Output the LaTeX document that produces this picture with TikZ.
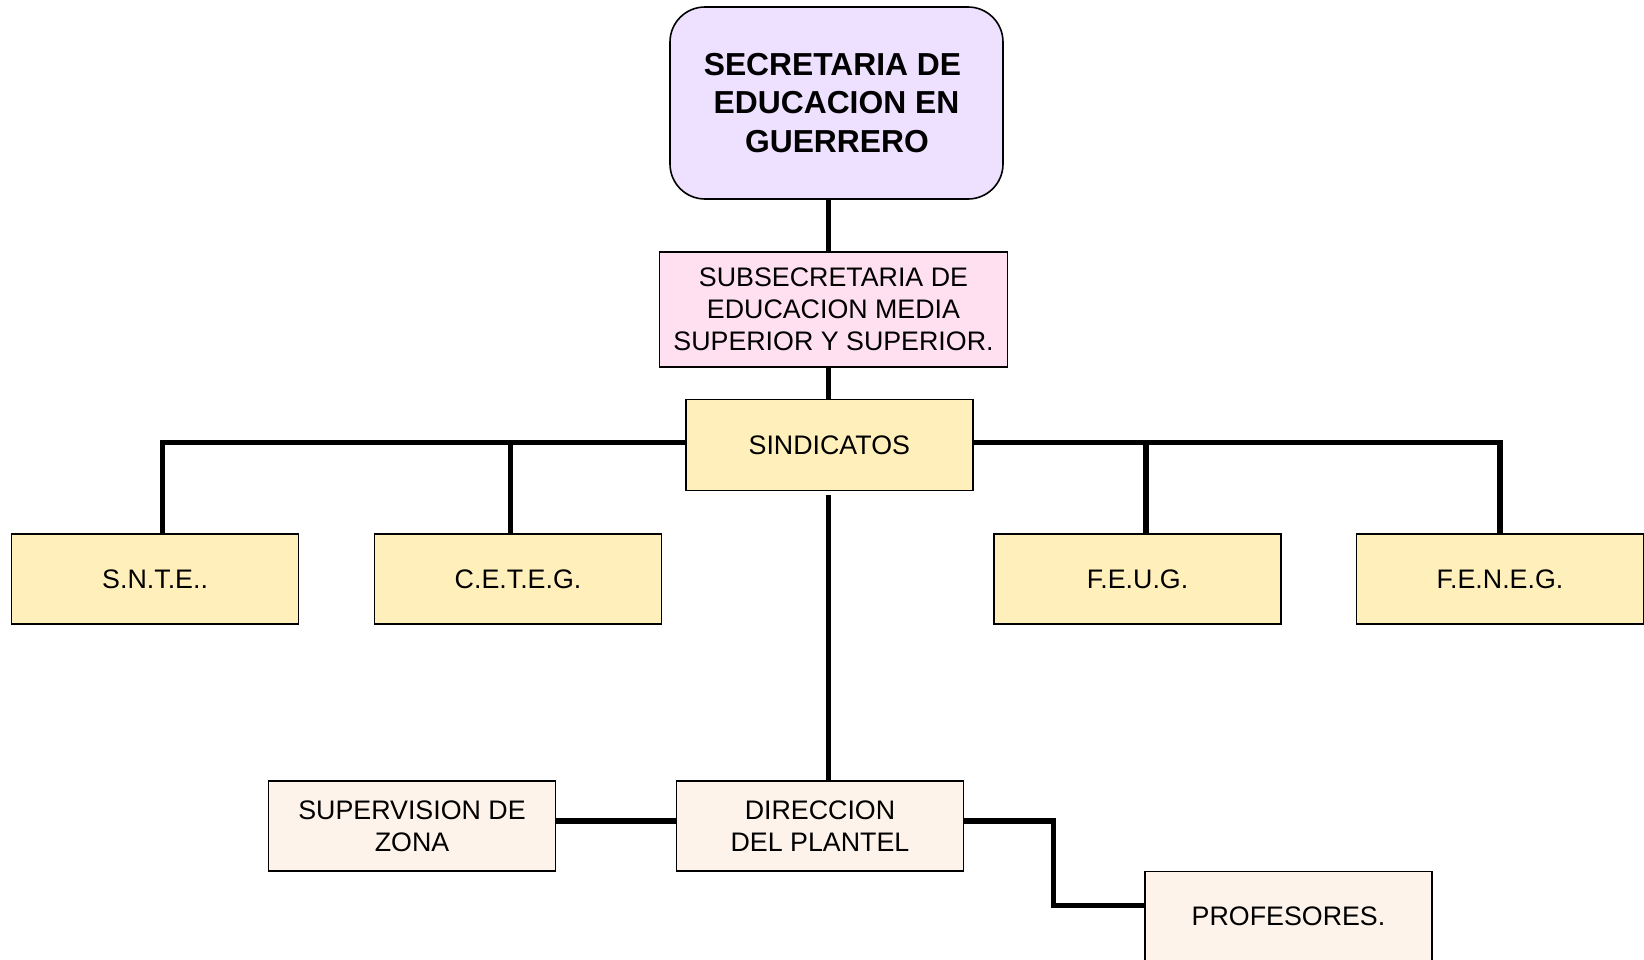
\documentclass[tikz,border=0pt]{standalone}
\usepackage{fontspec}
\setmainfont{Liberation Sans}
\definecolor{lav}{HTML}{EEE0FF}
\definecolor{pinkc}{HTML}{FFE0F0}
\definecolor{yel}{HTML}{FFF0BB}
\definecolor{cream}{HTML}{FDF3EA}
\tikzset{
  box/.style={draw=black, line width=1.6pt, inner sep=0pt, align=center,
    font=\fontsize{26.8}{32}\selectfont},
  conn/.style={line width=5.5pt, draw=black},
}
\begin{document}
\begin{tikzpicture}[x=1pt,y=-1pt]
\useasboundingbox (0,0) rectangle (1644,959);
% nodes (centres and sizes in pixels)
\node[box, fill=lav, rounded corners=35pt, minimum width=333pt, minimum height=192pt,
  font=\bfseries\fontsize{31.8}{38.3}\selectfont] (sec) at (836.5,103)
  {SECRETARIA DE\hspace*{8pt}\\EDUCACION EN\hspace*{8pt}\\\ GUERRERO\hspace*{8pt}};
\node[box, fill=pinkc, minimum width=348pt, minimum height=115pt] (sub) at (833.5,309.3)
  {SUBSECRETARIA DE\\EDUCACION MEDIA\\SUPERIOR Y SUPERIOR.};
\node[box, fill=yel, minimum width=287pt, minimum height=91pt] (sind) at (829.3,445)
  {SINDICATOS};
\node[box, fill=yel, minimum width=287pt, minimum height=90pt] (snte) at (155.1,578.8)
  {S.N.T.E..};
\node[box, fill=yel, minimum width=287pt, minimum height=90pt] (ceteg) at (518,578.8)
  {C.E.T.E.G.};
\node[box, fill=yel, minimum width=287pt, minimum height=90pt] (feug) at (1137.6,578.8)
  {F.E.U.G.};
\node[box, fill=yel, minimum width=287pt, minimum height=90pt] (feneg) at (1500,578.8)
  {F.E.N.E.G.};
\node[box, fill=cream, minimum width=287pt, minimum height=90pt] (sup) at (412,826)
  {SUPERVISION DE\\ZONA};
\node[box, fill=cream, minimum width=287pt, minimum height=90pt] (dir) at (820,826)
  {DIRECCION\\DEL PLANTEL};
\node[box, fill=cream, minimum width=287pt, minimum height=90pt] (prof) at (1288.5,916.3)
  {PROFESORES.};
% connectors
\coordinate (bar) at (0,442.5);
\draw[conn] ([xshift=-8.2pt]sec.south) -- ([xshift=-5.2pt]sub.north);
\draw[conn] ([xshift=-5.2pt]sub.south) -- ([xshift=-1pt]sind.north);
\draw[conn] ([yshift=2.5pt]sind.west) -| ([xshift=7.4pt]snte.north);
\draw[conn] ([xshift=-7.4pt]ceteg.north) -- ([xshift=-7.4pt]ceteg.north |- bar);
\draw[conn] ([yshift=2.5pt]sind.east) -| (feneg.north);
\draw[conn] ([xshift=8.4pt]feug.north) -- ([xshift=8.4pt]feug.north |- bar);
\draw[conn] ([xshift=-1pt,yshift=-4pt]sind.south) -- ([xshift=8.3pt]dir.north);
\draw[conn] ([yshift=5pt]sup.east) -- ([yshift=5pt]dir.west);
\coordinate (bend) at (1053.7,821);
\draw[conn] ([yshift=5pt]dir.east) -- (bend) |- ([yshift=11pt]prof.west);
\end{tikzpicture}
\end{document}
